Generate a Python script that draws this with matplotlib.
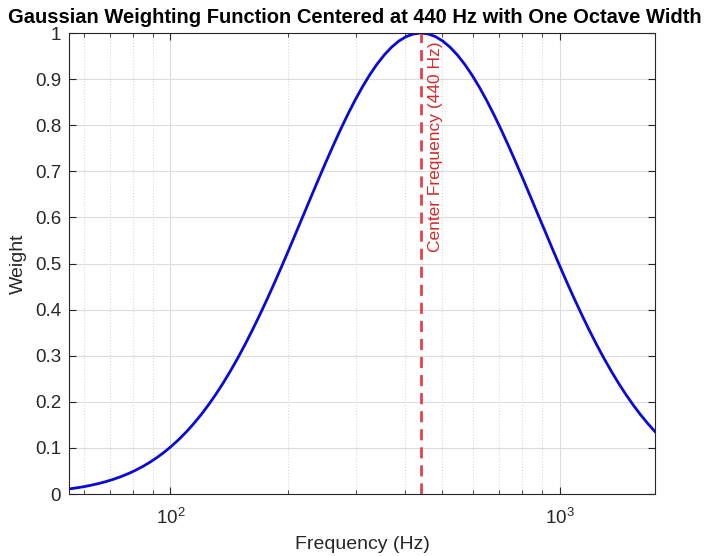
import matplotlib
matplotlib.use('Agg')
import matplotlib.pyplot as plt
from matplotlib.ticker import LogLocator, NullFormatter

plt.rcParams['font.family'] = ['Liberation Sans', 'DejaVu Sans']

# Weight curve (1/16 octave steps from 55 Hz to 1760 Hz)
freq = [55.0, 57.44, 59.98, 62.63, 65.41, 68.30, 71.33, 74.48, 77.78,
        81.23, 84.82, 88.58, 92.50, 96.59, 100.87, 105.34, 110.0,
        114.87, 119.96, 125.27, 130.81, 136.60, 142.65, 148.96, 155.56,
        162.45, 169.64, 177.16, 185.0, 193.19, 201.74, 210.67, 220.0,
        229.74, 239.91, 250.53, 261.63, 273.21, 285.30, 297.93, 311.13,
        324.90, 339.29, 354.31, 370.0, 386.38, 403.48, 421.35, 440.0,
        459.48, 479.82, 501.07, 523.25, 546.42, 570.61, 595.86, 622.25,
        649.81, 678.57, 708.62, 739.99, 772.75, 806.96, 842.69, 880.0,
        919.48, 959.65, 1002.1, 1046.5, 1092.8, 1141.2, 1191.7, 1244.5,
        1299.6, 1357.1, 1417.2, 1480.0, 1545.5, 1613.9, 1685.4, 1760.0]
weight = [0.0111, 0.0134, 0.0160, 0.0192, 0.0228, 0.0270, 0.0319, 0.0375, 0.0439,
          0.0513, 0.0596, 0.0690, 0.0796, 0.0914, 0.1046, 0.1192, 0.1353,
          0.1531, 0.1724, 0.1935, 0.2163, 0.2408, 0.2671, 0.2950, 0.3247,
          0.3559, 0.3886, 0.4226, 0.4578, 0.4941, 0.5311, 0.5687, 0.6065,
          0.6444, 0.6820, 0.7188, 0.7548, 0.7895, 0.8226, 0.8537, 0.8825,
          0.9087, 0.9321, 0.9523, 0.9692, 0.9826, 0.9922, 0.9980, 1.0,
          0.9980, 0.9922, 0.9826, 0.9692, 0.9523, 0.9321, 0.9087, 0.8825,
          0.8537, 0.8226, 0.7895, 0.7548, 0.7188, 0.6820, 0.6444, 0.6065,
          0.5687, 0.5311, 0.4941, 0.4578, 0.4226, 0.3886, 0.3559, 0.3247,
          0.2950, 0.2671, 0.2408, 0.2163, 0.1935, 0.1724, 0.1531, 0.1353]
center_freq = 440
y_ticks = [0, 0.1, 0.2, 0.3, 0.4, 0.5, 0.6, 0.7, 0.8, 0.9, 1]

fig = plt.figure(figsize=(7.06, 5.56), dpi=100)
ax = fig.add_axes([0.0984, 0.1115, 0.8294, 0.8291])

ax.semilogx(freq, weight, color='#0a0ad6', linewidth=2)
ax.axvline(center_freq, color='#e8404a', linestyle=(0, (4, 2.5)), linewidth=2)
ax.text(center_freq * 1.045, 0.982, 'Center Frequency (440 Hz)', rotation=90,
        color='#d42a2a', fontsize=12.5, ha='left', va='top')

ax.set_xlim(55, 1760)
ax.set_ylim(0, 1)
ax.set_yticks(y_ticks)
ax.set_yticklabels([('%g' % v) for v in y_ticks])
ax.xaxis.set_minor_locator(LogLocator(base=10, subs=range(2, 10)))
ax.xaxis.set_minor_formatter(NullFormatter())

# MATLAB-like grid and box
ax.grid(True, which='major', color='#dcdcdc', linewidth=0.8)
ax.grid(True, which='minor', axis='x', color='#d8d8d8', linestyle=':', linewidth=0.8)
ax.set_axisbelow(True)
for s in ax.spines.values():
    s.set_color('#262626')
    s.set_linewidth(0.8)
ax.tick_params(which='both', direction='in', top=True, right=True,
               colors='#262626', labelsize=13.5)
ax.tick_params(which='major', length=5)
ax.tick_params(which='minor', length=3)
ax.tick_params(axis='x', which='major', pad=10)
ax.tick_params(axis='y', which='major', pad=6)

ax.set_xlabel('Frequency (Hz)', fontsize=14, color='#262626', labelpad=6)
ax.set_ylabel('Weight', fontsize=14, color='#262626', labelpad=6)
ax.set_title('Gaussian Weighting Function Centered at 440 Hz with One Octave Width',
             fontsize=14.5, fontweight='bold', pad=7, x=0.4876)

fig.savefig('out.png', dpi=100)
